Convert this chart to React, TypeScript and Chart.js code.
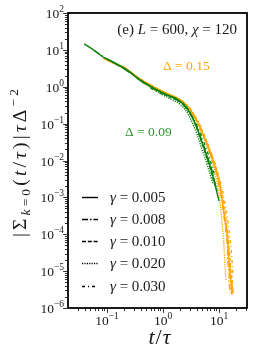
import React, { useEffect, useRef } from 'react';
import { Chart, registerables } from 'chart.js';
Chart.register(...registerables);

// ---- data ----
const gammaLabels = ['0.005', '0.008', '0.010', '0.020', '0.030'];

// Δ = 0.09 (green)
const g005x = [0.039, 0.054, 0.085, 0.128, 0.201, 0.258, 0.343, 0.44, 0.72, 1.18, 1.64, 2.1, 2.58, 3.03, 3.43, 4.05, 4.58, 5.4, 6.1, 6.9, 7.5, 8.5, 9.2, 10.0];
const g005y = [14.5, 10.6, 6.4, 4.7, 3.2, 2.5, 1.73, 1.35, 0.87, 0.6, 0.5, 0.387, 0.284, 0.195, 0.134, 0.076, 0.0436, 0.0219, 0.0125, 0.0071, 0.0046, 0.0023, 0.00132, 0.0008];
const g008x = [0.06, 0.085, 0.128, 0.201, 0.343, 0.44, 0.72, 1.18, 1.64, 2.1, 2.5, 2.9, 3.5, 4.05, 4.6, 5.4, 6.2, 7.0, 7.6, 8.4, 9.2];
const g008y = [9.5, 6.5, 4.6, 3.1, 1.75, 1.32, 0.85, 0.58, 0.47, 0.37, 0.28, 0.2, 0.135, 0.08, 0.047, 0.024, 0.013, 0.0075, 0.0048, 0.0026, 0.0015];
const g010x = [0.1, 0.15, 0.22, 0.34, 0.5, 0.8, 1.2, 1.7, 2.2, 2.6, 3.0, 3.4, 3.9, 4.5, 5.2, 5.9, 6.6, 7.3, 8.1, 8.8];
const g010y = [5.6, 4.0, 2.9, 1.78, 1.2, 0.8, 0.59, 0.48, 0.37, 0.29, 0.21, 0.145, 0.085, 0.046, 0.024, 0.0135, 0.0078, 0.0048, 0.0027, 0.0017];
const g020x = [0.35, 0.5, 0.75, 1.1, 1.5, 1.9, 2.3, 2.65, 3.0, 3.35, 3.8, 4.35, 4.9, 5.6, 6.3, 7.0, 7.8];
const g020y = [1.6, 1.15, 0.78, 0.55, 0.44, 0.36, 0.28, 0.21, 0.15, 0.105, 0.066, 0.038, 0.021, 0.012, 0.0068, 0.004, 0.0024];
const g030x = [0.6, 0.9, 1.3, 1.7, 2.1, 2.5, 2.9, 3.4, 3.9, 4.5, 5.2, 6.0, 6.8, 7.6, 8.4];
const g030y = [0.92, 0.66, 0.53, 0.45, 0.37, 0.29, 0.215, 0.15, 0.1, 0.063, 0.036, 0.02, 0.0115, 0.0065, 0.0038];

// Δ = 0.15 (orange)
const o005x = [0.085, 0.128, 0.201, 0.343, 0.44, 0.72, 1.18, 1.64, 2.1, 2.58, 3.03, 3.58, 4.22, 4.97, 5.86, 6.9, 8.15, 9.6, 10.4, 11.3, 11.8, 12.8, 13.9, 14.5, 15.1, 15.7, 16.4, 17.0];
const o005y = [6.0, 4.4, 3.45, 1.84, 1.44, 0.93, 0.66, 0.53, 0.43, 0.33, 0.245, 0.165, 0.1, 0.058, 0.032, 0.0165, 0.0084, 0.0036, 0.00193, 0.00097, 0.00055, 0.000246, 0.000109, 5.2e-5, 1.68e-5, 9.0e-6, 4.5e-6, 2.28e-6];
const o008x = [0.11, 0.16, 0.25, 0.4, 0.6, 0.9, 1.3, 1.8, 2.3, 2.8, 3.3, 3.9, 4.6, 5.4, 6.4, 7.6, 8.9, 9.9, 10.8, 11.4, 12.2, 13.2, 13.9, 14.3, 14.1, 14.8, 15.2, 15.0, 15.9];
const o008y = [5.1, 3.9, 2.7, 1.55, 1.1, 0.8, 0.6, 0.49, 0.38, 0.28, 0.2, 0.128, 0.076, 0.042, 0.022, 0.011, 0.0048, 0.0023, 0.0012, 0.00068, 0.00033, 0.000135, 6.5e-5, 3.5e-5, 2.2e-5, 1.2e-5, 8.5e-6, 5e-6, 2.6e-6];
const o010x = [0.14, 0.22, 0.35, 0.55, 0.85, 1.25, 1.75, 2.25, 2.75, 3.2, 3.8, 4.5, 5.3, 6.2, 7.3, 8.6, 9.9, 10.8, 11.7, 12.4, 13.3, 14.3, 15.0, 15.7, 16.4, 17.1, 17.8];
const o010y = [4.2, 3.05, 1.82, 1.2, 0.83, 0.63, 0.51, 0.4, 0.3, 0.225, 0.147, 0.09, 0.052, 0.029, 0.015, 0.0073, 0.0033, 0.0018, 0.0009, 0.0005, 0.00024, 0.0001, 4.8e-5, 2.0e-5, 8.8e-6, 4.5e-6, 2.6e-6];
const o020x = [0.4, 0.6, 0.9, 1.3, 1.8, 2.3, 2.8, 3.3, 3.9, 4.6, 5.4, 6.3, 7.3, 8.3, 9.1, 9.8, 10.4, 11.0, 11.5, 12.0, 12.4, 12.9, 13.3];
const o020y = [1.5, 1.04, 0.76, 0.58, 0.48, 0.38, 0.285, 0.2, 0.13, 0.078, 0.043, 0.023, 0.0115, 0.0055, 0.0028, 0.0014, 0.00075, 0.00035, 0.00016, 7.5e-5, 3.2e-5, 1.2e-5, 5.5e-6];
const o030x = [0.7, 1.0, 1.4, 1.9, 2.4, 2.9, 3.4, 4.0, 4.7, 5.5, 6.5, 7.7, 9.1, 10.6, 11.7, 12.6, 13.7, 14.9, 15.9, 16.8, 17.5, 17.2, 18.0];
const o030y = [0.84, 0.69, 0.56, 0.47, 0.37, 0.28, 0.205, 0.135, 0.084, 0.048, 0.025, 0.0125, 0.0058, 0.0026, 0.0014, 0.00075, 0.00036, 0.00015, 6.5e-5, 2.7e-5, 1.1e-5, 5e-6, 2.4e-6];

const greenX = [g005x, g008x, g010x, g020x, g030x];
const greenY = [g005y, g008y, g010y, g020y, g030y];
const orangeX = [o005x, o008x, o010x, o020x, o030x];
const orangeY = [o005y, o008y, o010y, o020y, o030y];

const xTickExps = [-1, 0, 1];
const yTickExps = [2, 1, 0, -1, -2, -3, -4, -5, -6];
const xMin = 0.0201, xMax = 31.6, yMin = 1e-6, yMax = 100;

// ---- styles ----
const GREEN = '#0a800a';
const ORANGE = '#FFA500';
const dashes = [[], [6, 2, 1.5, 2], [4, 1.8], [1.2, 1.2], [3, 3, 1, 3]];
const FONT = "'Liberation Serif', 'DejaVu Serif', serif";
const TXT = '#1a1a1a';

type Part = { t: string; size: number; italic?: boolean; dy?: number };

function partsWidth(ctx: CanvasRenderingContext2D, parts: Part[], gap = 0) {
  let w = 0;
  for (const p of parts) {
    ctx.font = `${p.italic ? 'italic ' : ''}${p.size}px ${FONT}`;
    w += ctx.measureText(p.t).width;
  }
  return w + gap * Math.max(0, parts.length - 1);
}
function drawParts(ctx: CanvasRenderingContext2D, parts: Part[], x: number, y: number, gap = 0) {
  let cx = x;
  for (const p of parts) {
    ctx.font = `${p.italic ? 'italic ' : ''}${p.size}px ${FONT}`;
    ctx.fillText(p.t, cx, y + (p.dy || 0));
    cx += ctx.measureText(p.t).width + gap;
  }
}
function powParts(e: number): Part[] {
  return [
    { t: '10', size: 13.5 },
    { t: e < 0 ? '\u2212' + Math.abs(e) : String(e), size: 9.5, dy: -6 },
  ];
}
function splitChars(parts: Part[]): Part[] {
  const out: Part[] = [];
  for (const p of parts) for (const c of Array.from(p.t)) out.push({ ...p, t: c });
  return out;
}

const decor = {
  id: 'decor',
  afterDraw(chart: any) {
    const { ctx, chartArea: a } = chart;
    const xs = chart.scales.x;
    const ys = chart.scales.y;
    ctx.save();
    ctx.textAlign = 'left';
    ctx.textBaseline = 'alphabetic';
    // frame
    ctx.strokeStyle = '#000';
    ctx.lineWidth = 1.8;
    ctx.strokeRect(a.left, a.top, a.right - a.left, a.bottom - a.top);
    // ticks
    ctx.lineWidth = 0.8;
    ctx.beginPath();
    for (let e = -2; e <= 1; e++) {
      for (let m = 1; m <= 9; m++) {
        const v = m * Math.pow(10, e);
        if (v < xMin || v > xMax) continue;
        const px = Math.round(xs.getPixelForValue(v)) + 0.5;
        const len = m === 1 ? 4 : 2.2;
        ctx.moveTo(px, a.bottom + 0.9);
        ctx.lineTo(px, a.bottom + 0.9 + len);
      }
    }
    for (let e = -6; e <= 2; e++) {
      for (let m = 1; m <= 9; m++) {
        const v = m * Math.pow(10, e);
        if (v < yMin * 0.999 || v > yMax * 1.001) continue;
        const py = Math.round(ys.getPixelForValue(v)) + 0.5;
        const len = m === 1 ? 4 : 2.2;
        ctx.moveTo(a.left - 0.9, py);
        ctx.lineTo(a.left - 0.9 - len, py);
      }
    }
    ctx.stroke();
    // tick labels
    ctx.fillStyle = TXT;
    for (const e of xTickExps) {
      const px = xs.getPixelForValue(Math.pow(10, e));
      const parts = powParts(e);
      const w = partsWidth(ctx, parts);
      drawParts(ctx, parts, px - w / 2, a.bottom + 17);
    }
    for (const e of yTickExps) {
      const py = ys.getPixelForValue(Math.pow(10, e));
      const parts = powParts(e);
      const w = partsWidth(ctx, parts);
      drawParts(ctx, parts, a.left - 4 - w, py + 5);
    }
    // x title
    const xt: Part[] = [
      { t: 't', size: 22, italic: true },
      { t: '/', size: 22 },
      { t: 'τ', size: 22, italic: true },
    ];
    const xw = partsWidth(ctx, xt, 1);
    drawParts(ctx, xt, (a.left + a.right) / 2 - xw / 2 + 2, 344, 1);
    // y title
    const base = 19.5;
    const sub = 13.5;
    const yt = splitChars([
      { t: '|Σ', size: base },
      { t: 'k', size: sub, italic: true, dy: 4 },
      { t: '=0', size: sub, dy: 4 },
      { t: '(', size: base },
      { t: 't', size: base, italic: true },
      { t: '/', size: base },
      { t: 'τ', size: base, italic: true },
      { t: ')|', size: base },
      { t: 'τ', size: base, italic: true },
      { t: 'Δ', size: base },
      { t: '\u22122', size: sub, dy: -8 },
    ]);
    const yw0 = partsWidth(ctx, yt);
    const gap = Math.max(0, (148 - yw0) / (yt.length - 1));
    const yw = partsWidth(ctx, yt, gap);
    ctx.save();
    ctx.translate(20, 163);
    ctx.rotate(-Math.PI / 2);
    drawParts(ctx, yt, -yw / 2, 6, gap);
    ctx.restore();
    // panel title
    const tt: Part[] = [
      { t: '(e) ', size: 15 },
      { t: 'L', size: 15, italic: true },
      { t: ' = 600, ', size: 15 },
      { t: 'χ', size: 15, italic: true },
      { t: ' = 120', size: 15 },
    ];
    const tw = partsWidth(ctx, tt);
    drawParts(ctx, tt, a.right - 10 - tw, 34);
    // annotations
    ctx.fillStyle = ORANGE;
    drawParts(ctx, [{ t: 'Δ = 0.15', size: 13.5 }], 163, 70);
    ctx.fillStyle = '#2a962a';
    drawParts(ctx, [{ t: 'Δ = 0.09', size: 13.5 }], 125, 136);
    // legend
    const rows = [197, 219, 241, 263, 286];
    for (let i = 0; i < gammaLabels.length; i++) {
      const ry = rows[i];
      ctx.strokeStyle = '#000';
      ctx.lineWidth = 1.4;
      ctx.setLineDash(dashes[i]);
      ctx.beginPath();
      ctx.moveTo(82, ry + 0.5);
      ctx.lineTo(98, ry + 0.5);
      ctx.stroke();
      ctx.setLineDash([]);
      ctx.fillStyle = TXT;
      drawParts(ctx, [
        { t: 'γ', size: 15, italic: true },
        { t: ' = ' + gammaLabels[i], size: 15 },
      ], 110, ry + 5);
    }
    ctx.restore();
  },
};

export default function App() {
  const ref = useRef<HTMLCanvasElement>(null);
  useEffect(() => {
    document.body.style.margin = '0';
    const datasets: any[] = [];
    for (let i = 0; i < 5; i++) {
      datasets.push({
        label: 'Δ=0.09 γ=' + gammaLabels[i],
        data: greenX[i].map((x, j) => ({ x, y: greenY[i][j] })),
        borderColor: GREEN,
        borderWidth: 1.4,
        borderDash: dashes[i],
        pointRadius: 0,
        fill: false,
        tension: 0,
      });
    }
    for (let i = 0; i < 5; i++) {
      datasets.push({
        label: 'Δ=0.15 γ=' + gammaLabels[i],
        data: orangeX[i].map((x, j) => ({ x, y: orangeY[i][j] })),
        borderColor: ORANGE,
        borderWidth: 1.4,
        borderDash: dashes[i],
        pointRadius: 0,
        fill: false,
        tension: 0,
      });
    }
    const chart = new Chart(ref.current!, {
      type: 'line',
      data: { datasets },
      options: {
        animation: false,
        responsive: false,
        devicePixelRatio: 1,
        layout: { padding: { left: 68, right: 7, top: 13, bottom: 52 } },
        plugins: { legend: { display: false }, tooltip: { enabled: false } },
        scales: {
          x: { type: 'logarithmic', min: xMin, max: xMax, display: false },
          y: { type: 'logarithmic', min: yMin, max: yMax, display: false },
        },
      },
      plugins: [decor],
    });
    return () => chart.destroy();
  }, []);
  return <canvas ref={ref} width={254} height={360} style={{ display: 'block' }} />;
}
